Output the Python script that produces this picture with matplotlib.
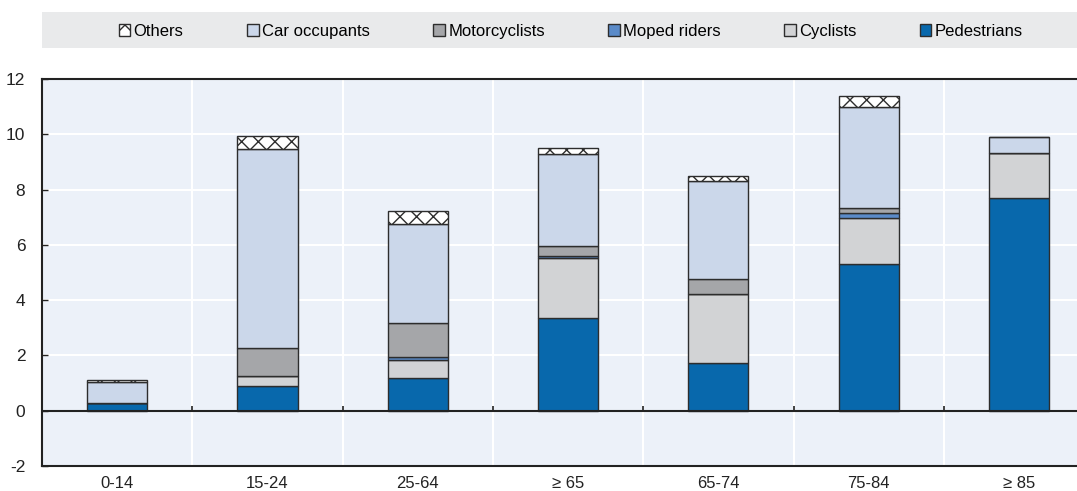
import matplotlib.pyplot as plt
import matplotlib.patches as mpatches
import numpy as np

plt.rcParams["font.family"] = ["Liberation Sans Narrow", "Liberation Sans", "DejaVu Sans"]
plt.rcParams["hatch.linewidth"] = 1.0
plt.rcParams["axes.unicode_minus"] = False

categories = ["0-14", "15-24", "25-64", "≥ 65", "65-74", "75-84", "≥ 85"]
pedestrians = [0.29, 0.91, 1.17, 3.34, 1.72, 5.31, 7.70]
cyclists = [0.0, 0.36, 0.66, 2.17, 2.50, 1.66, 1.64]
moped_riders = [0.0, 0.0, 0.10, 0.08, 0.0, 0.17, 0.0]
motorcyclists = [0.0, 1.01, 1.25, 0.36, 0.54, 0.20, 0.0]
car_occupants = [0.74, 7.19, 3.58, 3.34, 3.56, 3.64, 0.55]
others = [0.08, 0.48, 0.48, 0.23, 0.17, 0.42, 0.0]

series = [
    ("Pedestrians", pedestrians, "#0868ac", None),
    ("Cyclists", cyclists, "#d2d3d5", None),
    ("Moped riders", moped_riders, "#5b8bc9", None),
    ("Motorcyclists", motorcyclists, "#a5a6a9", None),
    ("Car occupants", car_occupants, "#cbd7ea", None),
    ("Others", others, "white", "xx"),
]

fig = plt.figure(figsize=(10.77, 4.91), dpi=100)
ax = fig.add_axes([42 / 1077, 25 / 491, 1 - 42 / 1077, (466 - 79) / 491])
ax.set_facecolor("#ecf1f9")

# legend band
fig.patches.append(mpatches.Rectangle((42 / 1077, 1 - 48 / 491), 1 - 42 / 1077, 36 / 491,
                                      transform=fig.transFigure, facecolor="#e9eaeb",
                                      edgecolor="none", zorder=0))

x = np.arange(len(categories))
bottom = np.zeros(len(categories))
handles = {}
for name, vals, color, hatch in series:
    vals = np.array(vals)
    b = ax.bar(x, vals, 0.4, bottom=bottom, color=color, edgecolor="#2d2d2d",
               linewidth=1.0, hatch=hatch, zorder=3, label=name)
    handles[name] = b
    bottom += vals

ax.set_xlim(-0.5, 6.386)
ax.set_ylim(-2, 12)
ax.set_yticks(np.arange(-2, 13, 2))
ax.set_xticks(x)
ax.set_xticklabels(categories)
ax.tick_params(axis="x", length=0, labelsize=12, pad=7, colors="#222222")
ax.tick_params(axis="y", direction="in", length=4, width=1, labelsize=12.5, pad=12,
               colors="#222222")

for yv in np.arange(2, 12, 2):
    ax.axhline(yv, color="white", lw=1.5, zorder=1)
for xv in np.arange(0.5, 6, 1):
    ax.axvline(xv, color="white", lw=1.5, zorder=1)
ax.vlines(np.arange(0.5, 6, 1), 0, 0.18, color="#222222", lw=1.2, zorder=4)
ax.axhline(0, color="#222222", lw=1.5, zorder=4)

for s in ["left", "top", "bottom"]:
    ax.spines[s].set_color("#222222")
    ax.spines[s].set_linewidth(1.5)
ax.spines["right"].set_visible(False)

order = ["Others", "Car occupants", "Motorcyclists", "Moped riders", "Cyclists", "Pedestrians"]
fig.legend([handles[n] for n in order], order, loc="center", ncol=6,
           bbox_to_anchor=(0.53, 1 - 31.5 / 491), frameon=False, fontsize=12,
           handlelength=0.7, handleheight=0.7, handletextpad=0.2, columnspacing=3.8)

fig.savefig("out.png", dpi=100)
